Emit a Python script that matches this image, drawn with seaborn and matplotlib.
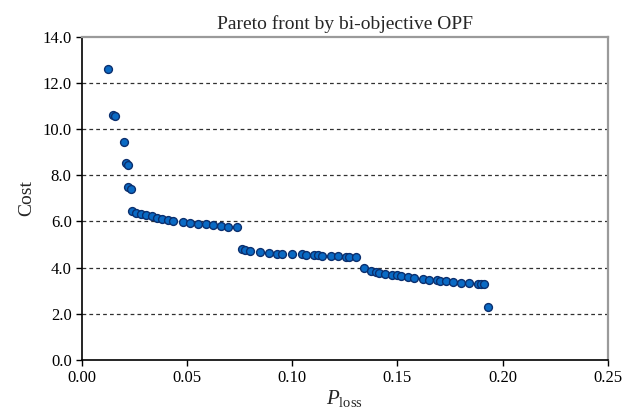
import matplotlib
matplotlib.use("Agg")
import matplotlib.pyplot as plt
import seaborn as sns
import pandas as pd

# Data
p_loss = [0.0122, 0.0148, 0.0158, 0.0197, 0.0207, 0.0219, 0.0218, 0.0232,
          0.0237, 0.0256, 0.0278, 0.0302, 0.0331, 0.0358, 0.0380, 0.0409,
          0.0432, 0.0480, 0.0515, 0.0551, 0.0587, 0.0622, 0.0660, 0.0695, 0.0739,
          0.0760, 0.0775, 0.0800, 0.0846, 0.0887, 0.0929, 0.0953, 0.0997,
          0.1045, 0.1064, 0.1103, 0.1124, 0.1143, 0.1182, 0.1218, 0.1256,
          0.1269, 0.1304,
          0.1343, 0.1375, 0.1396, 0.1414, 0.1443, 0.1474, 0.1498, 0.1517,
          0.1550, 0.1580, 0.1621, 0.1652, 0.1687, 0.1700, 0.1730, 0.1766,
          0.1802, 0.1842, 0.1881, 0.1897, 0.1913, 0.1930]
cost = [12.60, 10.62, 10.58, 9.46, 8.53, 8.45, 7.49, 7.41,
        6.47, 6.38, 6.31, 6.26, 6.23, 6.17, 6.12, 6.07,
        6.03, 5.97, 5.95, 5.91, 5.88, 5.85, 5.81, 5.78, 5.75,
        4.82, 4.76, 4.71, 4.67, 4.64, 4.61, 4.59, 4.58,
        4.58, 4.56, 4.55, 4.54, 4.52, 4.51, 4.49, 4.48,
        4.46, 4.44,
        3.97, 3.86, 3.80, 3.77, 3.73, 3.70, 3.67, 3.63,
        3.58, 3.54, 3.50, 3.48, 3.45, 3.44, 3.41, 3.38,
        3.35, 3.32, 3.31, 3.31, 3.31, 2.29]

x_ticks = [0.00, 0.05, 0.10, 0.15, 0.20, 0.25]
y_ticks = [0.0, 2.0, 4.0, 6.0, 8.0, 10.0, 12.0, 14.0]

df = pd.DataFrame({"P_loss": p_loss, "Cost": cost})

sns.set_theme(style="white")
plt.rcParams["font.family"] = ["Liberation Serif", "DejaVu Serif"]
plt.rcParams["mathtext.fontset"] = "custom"
plt.rcParams["mathtext.rm"] = "Liberation Serif"
plt.rcParams["mathtext.it"] = "Liberation Serif:italic"

fig = plt.figure(figsize=(6.22, 4.19), dpi=100)
ax = fig.add_axes([0.132, 0.141, 0.845, 0.771])

sns.scatterplot(data=df, x="P_loss", y="Cost", ax=ax, s=32,
                color="#0A6AC4", edgecolor="#0B2F6E", linewidth=1.0, zorder=3)

ax.set_xlim(0, 0.25)
ax.set_ylim(0, 14)
ax.set_xticks(x_ticks)
ax.set_xticklabels([f"{v:.2f}" for v in x_ticks])
ax.set_yticks(y_ticks)
ax.set_yticklabels([f"{v:.1f}" for v in y_ticks])

for y in y_ticks[1:-1]:
    ax.axhline(y, color="#303030", linestyle=(0, (3, 2.5)), linewidth=0.9, zorder=1)

ax.tick_params(axis="both", labelsize=12, colors="black", length=4, width=1,
               direction="out", bottom=True, left=True)
for side in ["left", "bottom"]:
    ax.spines[side].set_color("black")
    ax.spines[side].set_linewidth(1.2)
for side in ["top", "right"]:
    ax.spines[side].set_visible(True)
    ax.spines[side].set_color("#9a9a9a")
    ax.spines[side].set_linewidth(1.6)

ax.set_title("Pareto front by bi-objective OPF", fontsize=14, pad=6)
ax.set_xlabel(r"$P_{\mathrm{loss}}$", fontsize=15, labelpad=1)
ax.set_ylabel("Cost", fontsize=14, labelpad=5)

fig.savefig("out.png", dpi=100)
